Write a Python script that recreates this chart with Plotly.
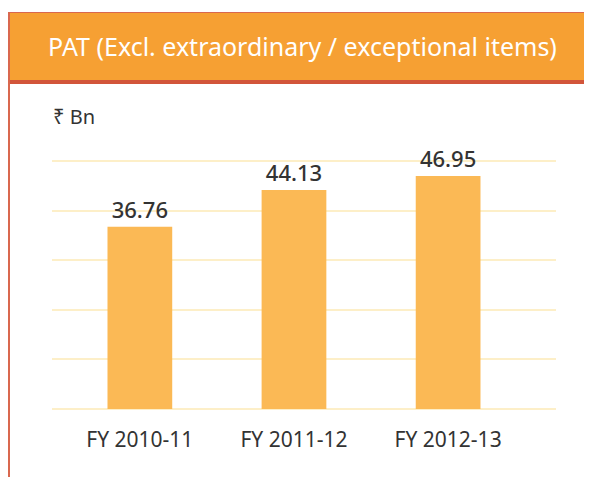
import plotly.graph_objects as go

# Profit after tax, Rs Bn
years = ["FY 2010-11", "FY 2011-12", "FY 2012-13"]
pat = [36.76, 44.13, 46.95]
y_ticks = [0, 10, 20, 30, 40, 50]

# the page body adds an 8px margin, so the figure is drawn 8px smaller
OFF = 8
W, H = 592 - OFF, 477 - OFF

# plot area in reference pixels: value 0 at y=409, value 50 at y=161
X_LEFT, X_RIGHT = 52, 556
Y_ZERO, Y_TOP = 409, 161
PAD = 0.4  # value units of slack so the edge gridlines are drawn
unit = (Y_ZERO - Y_TOP) / 50
plot_top = Y_TOP - PAD * unit - OFF
plot_bot = Y_ZERO + PAD * unit - OFF
L, R = X_LEFT - OFF, W - (X_RIGHT - OFF)
T, B = plot_top, H - plot_bot
PW, PH = W - L - R, H - T - B


def px(x):
    return (x - OFF - L) / PW


def py(y):
    return (plot_bot - (y - OFF)) / PH


fig = go.Figure(
    go.Bar(
        x=years,
        y=pat,
        width=0.42,
        marker=dict(color="#FBB955", line_width=0),
        text=[f"{v:.2f}" for v in pat],
        textposition="outside",
        textfont=dict(family="Noto Sans", size=22, color="#333333", weight=500),
        cliponaxis=False,
        hoverinfo="x+y",
    )
)

# header band, its bottom rule and the left border
fig.add_shape(type="rect", xref="paper", yref="paper",
              x0=px(8), x1=px(592), y0=py(80), y1=py(12),
              fillcolor="#F6A033", line_width=0, layer="below")
fig.add_shape(type="rect", xref="paper", yref="paper",
              x0=px(8), x1=px(592), y0=py(84), y1=py(80),
              fillcolor="#D2553A", line_width=0, layer="below")
fig.add_shape(type="rect", xref="paper", yref="paper",
              x0=px(8), x1=px(592), y0=py(13), y1=py(12),
              fillcolor="#D9684F", line_width=0, layer="below")
fig.add_shape(type="rect", xref="paper", yref="paper",
              x0=px(8), x1=px(10), y0=py(477), y1=py(12),
              fillcolor="#D9684F", line_width=0, layer="below")

fig.add_annotation(text="PAT (Excl. extraordinary / exceptional items)",
                   xref="paper", yref="paper", x=px(302), y=py(46),
                   showarrow=False, xanchor="center", yanchor="middle",
                   font=dict(family="Noto Sans", size=25, color="white"))
fig.add_annotation(text="₹ Bn", xref="paper", yref="paper",
                   x=px(51), y=py(117), showarrow=False,
                   xanchor="left", yanchor="middle",
                   font=dict(family="Noto Sans", size=20, color="#333333"))

fig.update_layout(
    width=W, height=H,
    margin=dict(l=L, r=R, t=T, b=B, pad=0),
    paper_bgcolor="white", plot_bgcolor="white",
    showlegend=False,
    font=dict(family="Noto Sans", color="#333333"),
    xaxis=dict(range=[-0.57, 2.70], showgrid=False, zeroline=False,
               showline=False, ticks="", ticklabelstandoff=14,
               tickfont=dict(size=21, color="#333333")),
    yaxis=dict(range=[-PAD, 50 + PAD], tickvals=y_ticks, showticklabels=False,
               showgrid=True, gridcolor="#FDEFC8", gridwidth=2,
               zeroline=False, showline=False, ticks=""),
)

fig.write_html("out.html")
